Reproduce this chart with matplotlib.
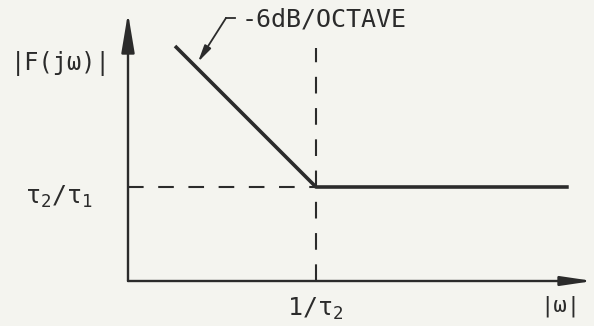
import matplotlib
matplotlib.use("Agg")
import matplotlib.pyplot as plt
import numpy as np

# Asymptotic magnitude response of a lag-lead network (normalised: 1/tau2 = 1, tau2/tau1 = 1)
omega = [0.1, 1.0, 62.0]
magnitude = [10.0, 1.0, 1.0]
corner = 1.0
plateau = 1.0

y_label = "|F(jω)|"
x_label = "|ω|"
corner_label = r"$1/\tau_2$"
plateau_label = r"$\tau_2/\tau_1$"
slope_label = "-6dB/OCTAVE"

ink = "#2b2b2b"
paper = "#f4f4ef"

plt.rcParams["mathtext.fontset"] = "custom"
plt.rcParams["mathtext.rm"] = "DejaVu Sans Mono"
plt.rcParams["mathtext.it"] = "DejaVu Sans Mono"
plt.rcParams["font.family"] = ["DejaVu Sans Mono", "DejaVu Sans"]

W, H = 594, 326
fig = plt.figure(figsize=(W / 100, H / 100), dpi=100, facecolor=paper)

# log-log axes with equal pixels per decade on both axes
ppd = 141.0
x0_px, y0_px = 128, 281          # origin of the drawn axes
cx_px, cy_px = 316, 187          # corner point
ax = fig.add_axes([x0_px / W, (H - y0_px) / H, (W - x0_px) / W, y0_px / H])
ax.set_xscale("log")
ax.set_yscale("log")
xmin = corner * 10 ** ((x0_px - cx_px) / ppd)
xmax = corner * 10 ** ((W - cx_px) / ppd)
ymin = plateau * 10 ** (-(y0_px - cy_px) / ppd)
ymax = plateau * 10 ** (cy_px / ppd)
ax.set_xlim(xmin, xmax)
ax.set_ylim(ymin, ymax)
ax.set_facecolor("none")
for s in ax.spines.values():
    s.set_visible(False)
ax.set_xticks([])
ax.set_yticks([])
ax.minorticks_off()

def px_x(p):
    return corner * 10 ** ((p - cx_px) / ppd)

def px_y(p):
    return plateau * 10 ** ((cy_px - p) / ppd)

# axes with arrow heads
ax.annotate("", xy=(xmin, px_y(13)), xytext=(xmin, ymin),
            arrowprops=dict(arrowstyle="-|>,head_length=2.4,head_width=0.4",
                            color=ink, lw=1.7, shrinkA=0, shrinkB=0),
            annotation_clip=False)
ax.annotate("", xy=(px_x(593), ymin), xytext=(xmin, ymin),
            arrowprops=dict(arrowstyle="-|>,head_length=1.9,head_width=0.28",
                            color=ink, lw=1.7, shrinkA=0, shrinkB=0),
            annotation_clip=False)

# dashed guides to the corner
ax.plot([xmin, corner], [plateau, plateau], color=ink, lw=1.5,
        dashes=(7.5, 7.0), clip_on=False)
ax.plot([corner, corner], [ymin, px_y(48)], color=ink, lw=1.5,
        dashes=(8.0, 7.0), clip_on=False)

# asymptotes
ax.plot(omega, magnitude, color=ink, lw=2.6, solid_capstyle="butt", clip_on=False)

# slope annotation with elbow leader
elbow = (px_x(226), px_y(18))
ax.plot([px_x(235), elbow[0]], [elbow[1], elbow[1]], color=ink, lw=1.3, clip_on=False)
ax.annotate("", xy=(px_x(198), px_y(62)), xytext=elbow,
            arrowprops=dict(arrowstyle="-|>,head_length=1.0,head_width=0.22",
                            color=ink, lw=1.3, shrinkA=0, shrinkB=0),
            annotation_clip=False)
ax.text(px_x(242), px_y(19), slope_label, fontsize=18, color=ink,
        ha="left", va="center")

# labels
ax.text(px_x(61), px_y(63), y_label, fontsize=17, color=ink, ha="center", va="center")
ax.text(px_x(59), px_y(197), plateau_label, fontsize=18, color=ink, ha="center", va="center")
ax.text(px_x(315), px_y(309), corner_label, fontsize=18, color=ink, ha="center", va="center")
ax.text(px_x(560), px_y(306), x_label, fontsize=16, color=ink, ha="center", va="center")

fig.savefig("out.png", dpi=100, facecolor=paper)
